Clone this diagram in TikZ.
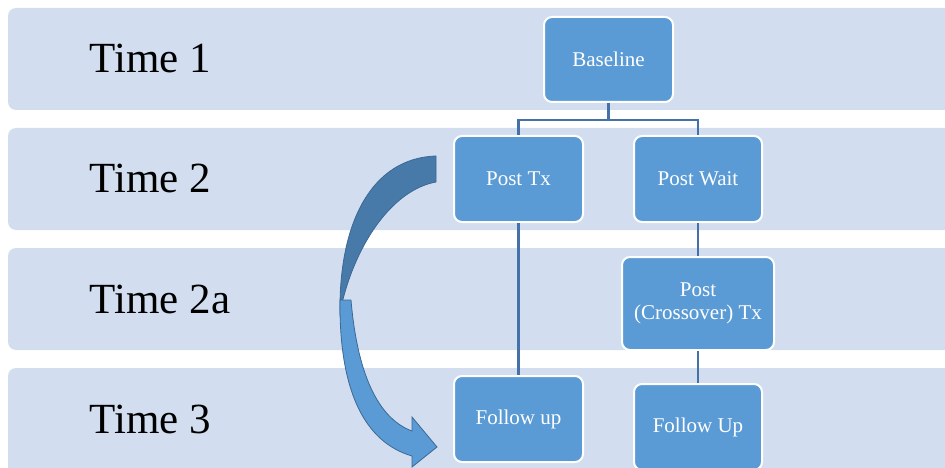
\documentclass[tikz,border=0pt]{standalone}
\usepackage{fontspec}
\setmainfont{Liberation Serif}
\definecolor{bandblue}{RGB}{210,222,239}
\definecolor{boxblue}{RGB}{91,155,213}
\definecolor{linkblue}{RGB}{68,114,168}
\definecolor{arrowdark}{RGB}{71,122,169}
\definecolor{arrowedge}{RGB}{60,104,148}
\tikzset{
  band/.style={fill=bandblue,rounded corners=8pt},
  timelabel/.style={anchor=base west,font=\fontsize{43}{43}\selectfont},
  stagebox/.style={rectangle,rounded corners=8pt,draw=white,line width=2pt,fill=boxblue,
    text=white,align=center,font=\fontsize{21}{23}\selectfont,inner sep=0pt},
  link/.style={draw=linkblue,line width=2.5pt}
}
\begin{document}
\begin{tikzpicture}[x=1pt,y=-1pt]
 \useasboundingbox (0,0) rectangle (945,468);
 \clip (0,0) rectangle (945,468);
 \fill[band](8,8) rectangle (965,110);
 \fill[band](8,128) rectangle (965,230);
 \fill[band](8,248) rectangle (965,350);
 \fill[band](8,368) rectangle (965,490);
 \node[timelabel] (t1) at (86,73) {Time 1};
 \node[timelabel] (t2) at (86,193) {Time 2};
 \node[timelabel] (t2a) at (86,313) {Time 2a};
 \node[timelabel] (t3) at (86,433) {Time 3};
 \node[stagebox,minimum width=129pt,minimum height=85pt] (base) at (608.5,59.5) {Baseline};
 \node[stagebox,minimum width=129pt,minimum height=86pt] (ptx) at (518.5,179) {Post Tx};
 \node[stagebox,minimum width=128pt,minimum height=86pt] (pw) at (698,179) {Post Wait};
 \node[stagebox,minimum width=152pt,minimum height=93pt] (cx) at (698,303.5) {Post\\(Crossover) Tx};
 \node[stagebox,minimum width=129pt,minimum height=86pt] (fu) at (518.5,419) {Follow up};
 \node[stagebox,minimum width=128pt,minimum height=86pt] (fuw) at (698,427) {Follow Up};
 \draw[link](base.south) -- ++(0,17) -| (ptx.north);
 \draw[link](base.south) -- ++(0,17) -| (pw.north);
 \draw[link](ptx.south) -- (fu.north);
 \draw[link](pw.south) -- (cx.north);
 \draw[link](cx.south) -- (fuw.north);
 % curved block arrow
 \filldraw[fill=arrowdark,draw=arrowedge,line width=0.8pt](436,156) .. controls (372,158) and (339,222) .. (340,312)
   .. controls (354,245) and (392,190) .. (436,182) -- cycle;
 \filldraw[fill=boxblue,draw=arrowedge,line width=0.8pt](340,300) .. controls (339,390) and (364,442) .. (412,456)
   -- (412,467) -- (437,447) -- (412,417) -- (412,431) .. controls (382,420) and (358,382) .. (351,300) -- cycle;
\end{tikzpicture}
\end{document}
